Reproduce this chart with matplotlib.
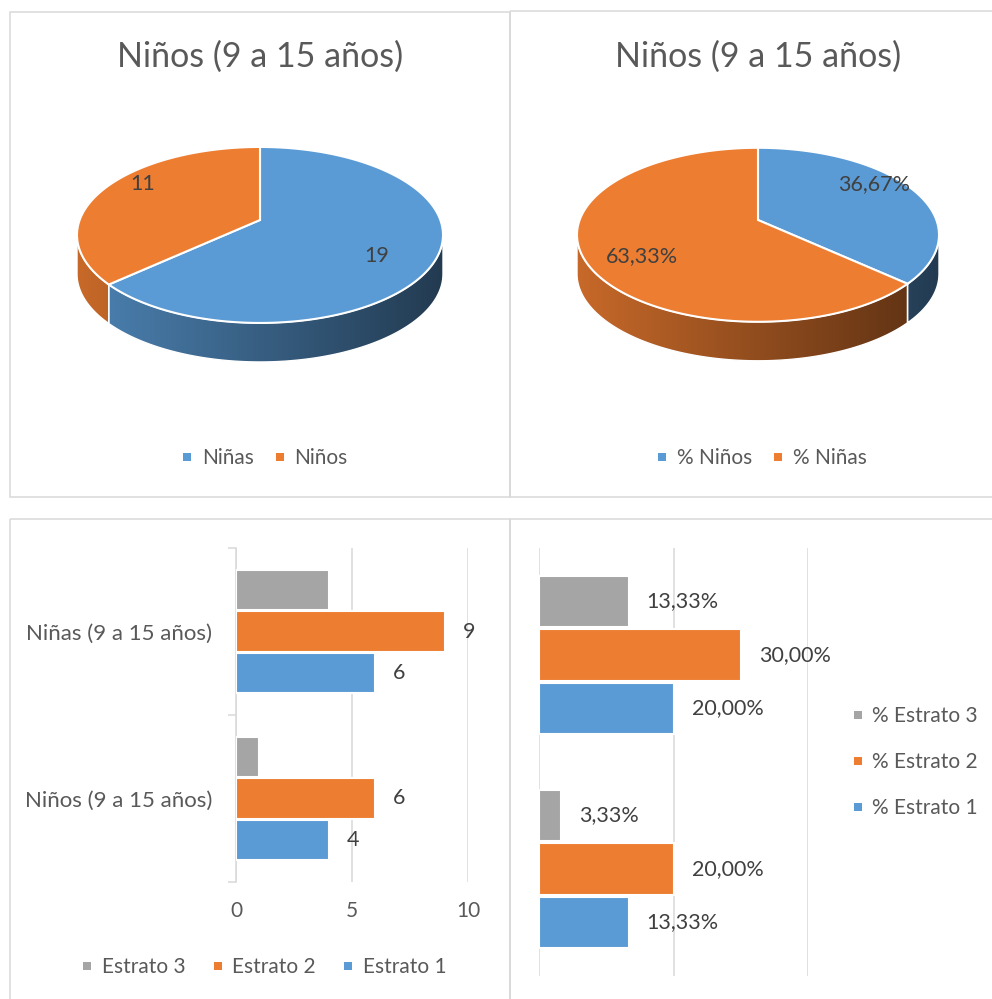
"""Two 3D-style pies and two grouped bar charts for children aged 9 to 15."""

import numpy as np
import matplotlib

matplotlib.use("Agg")

import matplotlib.pyplot as plt
from matplotlib.colors import to_rgb
from matplotlib.lines import Line2D
from matplotlib.patches import Polygon, Rectangle

plt.rcParams["font.family"] = ["Lato", "DejaVu Sans"]

W, H = 992, 999

BLUE = "#5B9BD5"
ORANGE = "#ED7D31"
GRAY = "#A5A5A5"
GRID = "#D9D9D9"
TEXT = "#595959"
LABEL = "#404040"

TITLE = "Niños (9 a 15 años)"

count_labels = ["Niñas", "Niños"]
count_values = [19, 11]

share_labels = ["% Niños", "% Niñas"]
share_values = [36.67, 63.33]

# bar categories, bottom to top
bar_categories = ["Niños (9 a 15 años)", "Niñas (9 a 15 años)"]
estrato1_counts = [4, 6]
estrato2_counts = [6, 9]
estrato3_counts = [1, 4]
estrato1_pct = [13.33, 20.00]
estrato2_pct = [20.00, 30.00]
estrato3_pct = [3.33, 13.33]

K = 0.17  # perspective strength of the tilted pies


def px_rect(left, top, right, bottom):
    return [left / W, 1 - bottom / H, (right - left) / W, (bottom - top) / H]


def comma(value, suffix=""):
    return f"{value:.2f}".replace(".", ",") + suffix


def draw_pie3d(ax, values, colors, labels, cx, cy, half_width, face_height, depth):
    sx = half_width * np.sqrt(1 - K ** 2)
    sy = face_height * (1 - K ** 2) / 2

    def rim(theta):
        w = 1 + K * np.sin(theta)
        return cx + sx * np.cos(theta) / w, cy - sy * np.sin(theta) / w

    fractions = np.cumsum([0] + list(values)) / sum(values)
    starts = np.pi / 2 - 2 * np.pi * fractions[:-1]
    ends = np.pi / 2 - 2 * np.pi * fractions[1:]
    front_lo, front_hi = -np.pi + np.arcsin(K), -np.arcsin(K)
    t = np.linspace(0, 1, 256)
    shade = 0.84 - 0.46 * t

    for start, end, color in zip(starts, ends, colors):
        lo, hi = max(end, front_lo), min(start, front_hi)
        if lo < hi:
            th = np.linspace(lo, hi, 120)
            x, y = rim(th)
            pts = np.column_stack(
                [np.concatenate([x, x[::-1]]), np.concatenate([y, y[::-1] + depth])]
            )
            side = Polygon(pts, closed=True, facecolor="none",
                           edgecolor="white", linewidth=1.0, zorder=2)
            ax.add_patch(side)
            grad = np.array(to_rgb(color))[None, None, :] * shade[None, :, None]
            grad = np.repeat(grad, 2, axis=0)
            im = ax.imshow(grad, extent=(cx - half_width, cx + half_width,
                                         cy + face_height + depth, cy - face_height),
                           aspect="auto", interpolation="bilinear", zorder=1)
            im.set_clip_path(side)

        th = np.linspace(start, end, 200)
        x, y = rim(th)
        pts = np.column_stack([np.r_[cx, x], np.r_[cy, y]])
        ax.add_patch(Polygon(pts, closed=True, facecolor=color,
                             edgecolor="white", linewidth=1.5, zorder=3))

    for start, end, text in zip(starts, ends, labels):
        mid = (start + end) / 2
        ax.text(cx + 0.7 * np.cos(mid) * half_width,
                cy - 1.05 * np.sin(mid) * sy,
                text, ha="center", va="center", fontsize=15.5, color=LABEL, zorder=4)


def square(color):
    return Line2D([], [], marker="s", linestyle="none", markersize=6,
                  markeredgewidth=0, color=color)


fig = plt.figure(figsize=(W / 100, H / 100), dpi=100, facecolor="white")

# pixel-space layer for panel frames, titles and pies
bg = fig.add_axes([0, 0, 1, 1])
bg.set_axis_off()

for x0, y0, x1, y1 in [(10, 12, 509.5, 497), (510, 11, 1010, 497),
                       (10, 519, 510, 1010), (510, 519, 1010, 1010)]:
    bg.add_patch(Rectangle((x0, y0), x1 - x0, y1 - y0, facecolor="none",
                           edgecolor=GRID, linewidth=1.1, zorder=0))

for x in (260, 758):
    bg.text(x, 67, TITLE, ha="center", va="baseline", fontsize=24.5, color=TEXT)

draw_pie3d(bg, count_values, [BLUE, ORANGE], [str(v) for v in count_values],
           cx=260, cy=220, half_width=183, face_height=176, depth=39)
draw_pie3d(bg, share_values, [BLUE, ORANGE], [comma(v, "%") for v in share_values],
           cx=758, cy=220, half_width=181, face_height=174, depth=39)

bg.set_xlim(0, W)
bg.set_ylim(H, 0)

legend_kw = dict(frameon=False, fontsize=15, labelcolor=TEXT, handlelength=0.5,
                 handletextpad=0.45, borderpad=0, borderaxespad=0)
fig.legend([square(BLUE), square(ORANGE)], count_labels, loc="center",
           bbox_to_anchor=(265 / W, 1 - 458 / H), ncol=2, columnspacing=1.0,
           **legend_kw)
fig.legend([square(BLUE), square(ORANGE)], share_labels, loc="center",
           bbox_to_anchor=(762 / W, 1 - 458 / H), ncol=2, columnspacing=1.0,
           **legend_kw)

# grouped bars: Estrato 1 at the bottom of each group, Estrato 3 on top
y = np.arange(len(bar_categories))
bar_h = 0.24
series_counts = [(estrato3_counts, GRAY, 0.25), (estrato2_counts, ORANGE, 0.0),
                 (estrato1_counts, BLUE, -0.25)]
series_pct = [(estrato3_pct, GRAY, 0.25), (estrato2_pct, ORANGE, 0.0),
              (estrato1_pct, BLUE, -0.25)]

ax1 = fig.add_axes(px_rect(236, 548, 468, 882))
ax1.set_facecolor("none")
for i, (values, color, offset) in enumerate(series_counts):
    bars = ax1.barh(y + offset, values, height=bar_h, color=color,
                    edgecolor="white", linewidth=1.5, zorder=3)
    if i > 0:
        ax1.bar_label(bars, labels=[str(v) for v in values], padding=13,
                      fontsize=15.5, color=LABEL)
ax1.set_xlim(0, 10)
ax1.set_ylim(-0.5, 1.5)
ax1.set_xticks([0, 5, 10])
ax1.tick_params(axis="x", length=0, pad=14, labelsize=15, labelcolor=TEXT)
ax1.xaxis.grid(True, color=GRID, linewidth=1.1)
ax1.set_axisbelow(True)
ax1.set_yticks([-0.5, 0.5, 1.5])
ax1.set_yticklabels([])
ax1.set_yticks(y, minor=True)
ax1.set_yticklabels(bar_categories, minor=True)
ax1.tick_params(axis="y", which="major", length=6, width=1.1, color=GRID)
ax1.tick_params(axis="y", which="minor", length=0, pad=17, labelsize=16,
                labelcolor=TEXT)
for name in ("top", "right", "bottom"):
    ax1.spines[name].set_visible(False)
ax1.spines["left"].set_color(GRID)
ax1.spines["left"].set_linewidth(1.1)

fig.legend([square(GRAY), square(ORANGE), square(BLUE)],
           ["Estrato 3", "Estrato 2", "Estrato 1"], loc="center",
           bbox_to_anchor=(264 / W, 1 - 967 / H), ncol=3, columnspacing=1.3,
           **legend_kw)

ax2 = fig.add_axes(px_rect(539, 548, 808, 976))
ax2.set_facecolor("none")
for values, color, offset in series_pct:
    bars = ax2.barh(y + offset, values, height=bar_h, color=color,
                    edgecolor="white", linewidth=1.5, zorder=3)
    ax2.bar_label(bars, labels=[comma(v, "%") for v in values], padding=13,
                  fontsize=15.5, color=LABEL)
ax2.set_xlim(0, 40)
ax2.set_ylim(-0.5, 1.5)
ax2.set_xticks([0, 20, 40])
ax2.set_xticklabels([])
ax2.set_yticks([])
ax2.tick_params(length=0)
ax2.xaxis.grid(True, color=GRID, linewidth=1.1)
ax2.set_axisbelow(True)
for spine in ax2.spines.values():
    spine.set_visible(False)

fig.legend([square(GRAY), square(ORANGE), square(BLUE)],
           ["% Estrato 3", "% Estrato 2", "% Estrato 1"], loc="center",
           bbox_to_anchor=(915 / W, 1 - 762 / H), ncol=1, labelspacing=1.25,
           **legend_kw)

fig.savefig("out.png", dpi=100, facecolor="white")
